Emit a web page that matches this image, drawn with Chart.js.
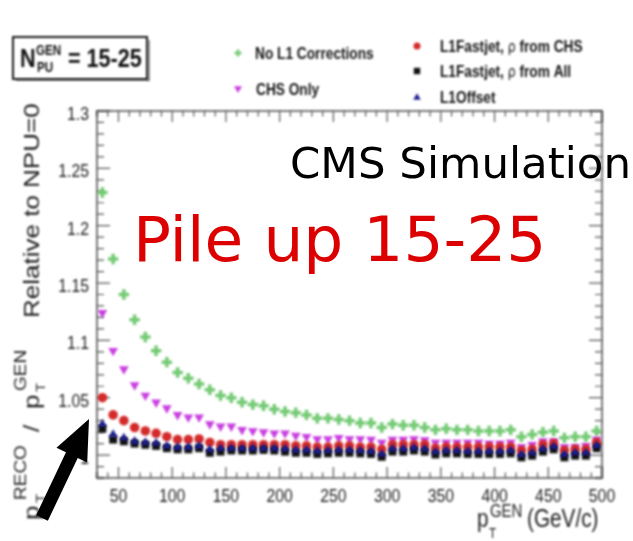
<!DOCTYPE html>
<html>
<head>
<meta charset="utf-8">
<script src="https://cdn.jsdelivr.net/npm/chart.js@4.4.0/dist/chart.umd.min.js"></script>
<style>
  html, body { margin: 0; padding: 0; background: #fff; }
  #plot { display: block; }
</style>
</head>
<body>
<canvas id="plot" width="633" height="541"></canvas>
<script>
// generator-level jet pT bin centres (GeV/c)
const ptBins = [35, 45, 55, 65, 75, 85, 95, 105, 115, 125, 135, 145, 155, 165, 175, 185,
  195, 205, 215, 225, 235, 245, 255, 265, 275, 285, 295, 305, 315, 325, 335, 345, 355,
  365, 375, 385, 395, 405, 415, 425, 435, 445, 455, 465, 475, 485, 495];

// pT(reco)/pT(gen) relative to NPU=0, one array per correction scheme
const noL1 = [1.229, 1.171, 1.140, 1.118, 1.103, 1.091, 1.081, 1.072, 1.067, 1.062, 1.057,
  1.052, 1.050, 1.046, 1.044, 1.043, 1.040, 1.038, 1.037, 1.035, 1.032, 1.032, 1.031, 1.030,
  1.028, 1.028, 1.024, 1.027, 1.026, 1.026, 1.024, 1.022, 1.023, 1.022, 1.022, 1.021, 1.021,
  1.021, 1.022, 1.016, 1.018, 1.020, 1.021, 1.015, 1.016, 1.016, 1.021];
const chsOnly = [1.124, 1.091, 1.075, 1.061, 1.052, 1.046, 1.041, 1.035, 1.033, 1.033, 1.027,
  1.025, 1.025, 1.022, 1.021, 1.020, 1.019, 1.019, 1.017, 1.016, 1.014, 1.014, 1.015, 1.014,
  1.014, 1.0135, 1.011, 1.0135, 1.0135, 1.014, 1.013, 1.011, 1.011, 1.011, 1.011, 1.011, 1.010,
  1.010, 1.011, 1.007, 1.009, 1.012, 1.012, 1.007, 1.007, 1.008, 1.0135];
const fastjetChs = [1.050, 1.035, 1.030, 1.024, 1.021, 1.019, 1.016, 1.0135, 1.0135, 1.014,
  1.011, 1.009, 1.009, 1.009, 1.009, 1.009, 1.009, 1.009, 1.008, 1.008, 1.007, 1.007, 1.008,
  1.008, 1.007, 1.007, 1.005, 1.009, 1.009, 1.009, 1.009, 1.006, 1.007, 1.007, 1.007, 1.007,
  1.007, 1.007, 1.007, 1.004, 1.005, 1.009, 1.010, 1.004, 1.005, 1.005, 1.011];
const fastjetAll = [1.023, 1.0135, 1.012, 1.010, 1.009, 1.008, 1.006, 1.005, 1.005, 1.006,
  1.002, 1.003, 1.004, 1.004, 1.004, 1.0045, 1.004, 1.003, 1.002, 1.002, 1.001, 1.0015, 1.002,
  1.002, 1.0015, 1.001, 0.9985, 1.003, 1.003, 1.004, 1.003, 1.0005, 1.0015, 1.0015, 1.001,
  1.001, 1.001, 1.001, 1.0015, 0.998, 0.9995, 1.003, 1.005, 0.998, 0.9995, 0.9995, 1.006];
const l1Offset = [1.027, 1.018, 1.015, 1.012, 1.011, 1.0105, 1.008, 1.007, 1.007, 1.008,
  1.005, 1.006, 1.006, 1.006, 1.006, 1.006, 1.006, 1.0055, 1.0045, 1.0045, 1.0035, 1.004,
  1.0045, 1.0045, 1.004, 1.0035, 1.001, 1.0055, 1.0055, 1.0065, 1.0055, 1.003, 1.004, 1.004,
  1.0035, 1.0035, 1.0035, 1.0035, 1.004, 1.0005, 1.002, 1.0055, 1.0075, 1.0005, 1.002, 1.002,
  1.0085];

const xTickValues = [50, 100, 150, 200, 250, 300, 350, 400, 450, 500];
const yTickValues = [1, 1.05, 1.1, 1.15, 1.2, 1.25, 1.3];
const yTickLabels = ['1', '1.05', '1.1', '1.15', '1.2', '1.25', '1.3'];

const COL = {
  noL1: '#74ca74',
  chs: '#c93fe0',
  fjChs: '#d42a2a',
  fjAll: '#111111',
  offset: '#1c1c8e'
};

const SQ = 0.83;        // lettering of the plot is a bit condensed
const INK = '#1c1c1c';
const SOFT = 'blur(0.8px)';

function squeezed(ctx, str, x, y, font, align) {
  ctx.save();
  ctx.translate(x, y);
  ctx.scale(SQ, 1);
  ctx.font = font;
  ctx.textAlign = align || 'left';
  ctx.textBaseline = 'alphabetic';
  ctx.fillText(str, 0, 0);
  ctx.restore();
}

function marker(ctx, style, x, y, r, color) {
  ctx.save();
  ctx.fillStyle = color;
  ctx.strokeStyle = color;
  ctx.beginPath();
  if (style === 'cross') {
    ctx.lineWidth = 2.5;
    ctx.moveTo(x - r, y); ctx.lineTo(x + r, y);
    ctx.moveTo(x, y - r); ctx.lineTo(x, y + r);
    ctx.stroke();
  } else if (style === 'circle') {
    ctx.arc(x, y, r, 0, Math.PI * 2);
    ctx.fill();
  } else if (style === 'square') {
    ctx.fillRect(x - r, y - r, 2 * r, 2 * r);
  } else if (style === 'down') {
    ctx.moveTo(x - r, y - r * 0.7); ctx.lineTo(x + r, y - r * 0.7); ctx.lineTo(x, y + r);
    ctx.closePath(); ctx.fill();
  } else if (style === 'up') {
    ctx.moveTo(x - r, y + r * 0.7); ctx.lineTo(x + r, y + r * 0.7); ctx.lineTo(x, y - r);
    ctx.closePath(); ctx.fill();
  }
  ctx.restore();
}

function drawFrame(chart) {
  const { ctx, chartArea: a, scales: { x, y } } = chart;
  ctx.strokeStyle = '#555';
  ctx.lineWidth = 1.6;
  ctx.strokeRect(a.left, a.top, a.right - a.left, a.bottom - a.top);

  ctx.lineWidth = 1.2;
  ctx.beginPath();
  for (let v = 30; v <= 500; v += 10) {
    const px = x.getPixelForValue(v);
    const len = v % 50 === 0 ? 11 : 5.5;
    ctx.moveTo(px, a.bottom); ctx.lineTo(px, a.bottom - len);
    ctx.moveTo(px, a.top); ctx.lineTo(px, a.top + len);
  }
  for (let i = 0; i <= 32; i++) {
    const py = y.getPixelForValue(0.98 + i * 0.01);
    const len = i % 5 === 2 ? 13 : 7;
    ctx.moveTo(a.left, py); ctx.lineTo(a.left + len, py);
    ctx.moveTo(a.right, py); ctx.lineTo(a.right - len, py);
  }
  ctx.stroke();

  ctx.fillStyle = INK;
  xTickValues.forEach(v => {
    squeezed(ctx, String(v), x.getPixelForValue(v), a.bottom + 24, '19px "Liberation Sans"', 'center');
  });
  yTickValues.forEach((v, i) => {
    squeezed(ctx, yTickLabels[i], a.left - 8, y.getPixelForValue(v) + 9, '19px "Liberation Sans"', 'right');
  });
}

function drawTitles(chart) {
  const ctx = chart.ctx;
  ctx.fillStyle = INK;
  const main = '25px "Liberation Sans"';
  const small = '18px "Liberation Sans"';

  // x title, right aligned under the axis
  squeezed(ctx, 'p', 477, 527, main);
  squeezed(ctx, 'GEN', 490, 517, small);
  squeezed(ctx, 'T', 489, 538, '14px "Liberation Sans"');
  squeezed(ctx, '(GeV/c)', 527, 527, main);

  // y title, rotated, read bottom to top
  ctx.save();
  ctx.translate(39, 0);
  ctx.rotate(-Math.PI / 2);
  ctx.scale(1, SQ);
  ctx.textBaseline = 'alphabetic';
  const put = (str, screenY, font, shift) => {
    ctx.font = font;
    ctx.fillText(str, -screenY, shift || 0);
  };
  const big = '26px "Liberation Sans"';
  put('p', 520, big);
  put('T', 503, '15px "Liberation Sans"', 7);
  put('RECO', 500, '19px "Liberation Sans"', -16);
  put('/', 432, big);
  put('p', 409, big);
  put('T', 392, '15px "Liberation Sans"', 7);
  put('GEN', 391, '19px "Liberation Sans"', -16);
  put('Relative to NPU=0', 318, big);
  ctx.restore();
}

function drawLegend(chart) {
  const ctx = chart.ctx;
  const font = 'bold 16.5px "Liberation Sans"';
  const ink = '#141414';
  ctx.fillStyle = ink;

  marker(ctx, 'cross', 238, 53, 3.5, COL.noL1);
  squeezed(ctx, 'No L1 Corrections', 255, 59, font);
  marker(ctx, 'down', 238, 89, 4, COL.chs);
  ctx.fillStyle = ink;
  squeezed(ctx, 'CHS Only', 256, 95, font);

  const rows = [
    ['circle', 3.5, COL.fjChs, 46, 'L1Fastjet, ', ' from CHS'],
    ['square', 3.2, COL.fjAll, 71, 'L1Fastjet, ', ' from All'],
    ['up', 3.8, COL.offset, 97, 'L1Offset', '']
  ];
  rows.forEach(([style, r, color, yy, head, tail]) => {
    marker(ctx, style, 417, yy, r, color);
    ctx.fillStyle = ink;
    ctx.save();
    ctx.translate(440, yy + 6);
    ctx.scale(SQ, 1);
    ctx.font = font;
    ctx.fillText(head, 0, 0);
    if (tail) {
      let w = ctx.measureText(head).width;
      ctx.font = '15px "DejaVu Sans"';
      ctx.fillText('\u03c1', w, 0);
      w += ctx.measureText('\u03c1').width;
      ctx.font = font;
      ctx.fillText(tail, w, 0);
    }
    ctx.restore();
  });
}

function drawPileupBox(chart) {
  const ctx = chart.ctx;
  ctx.fillStyle = '#9a9a9a';
  ctx.fillRect(16, 78, 133, 3);
  ctx.fillRect(147, 40, 3, 41);
  ctx.fillStyle = '#fff';
  ctx.fillRect(13, 37, 134, 42);
  ctx.strokeStyle = '#1a1a1a';
  ctx.lineWidth = 2;
  ctx.strokeRect(13, 37, 134, 42);

  ctx.fillStyle = '#111';
  squeezed(ctx, 'N', 20, 67, 'bold 26px "Liberation Sans"');
  squeezed(ctx, 'GEN', 36, 55, 'bold 14px "Liberation Sans"');
  squeezed(ctx, 'PU', 37, 72, 'bold 14px "Liberation Sans"');
  squeezed(ctx, '= 15-25', 68, 67, 'bold 26px "Liberation Sans"');
}

function drawNotes(chart) {
  const ctx = chart.ctx;
  ctx.save();
  ctx.textBaseline = 'alphabetic';
  ctx.font = '43.5px "DejaVu Sans"';
  ctx.fillStyle = '#000';
  ctx.fillText('CMS Simulation', 290, 178);
  ctx.font = '63px "DejaVu Sans"';
  ctx.fillStyle = '#dc0000';
  ctx.fillText('Pile up 15-25', 133, 261);

  // arrow pointing at the low-pT end of the corrected curves
  const tail = [42, 518], tip = [89, 419];
  const dx = tip[0] - tail[0], dy = tip[1] - tail[1];
  const len = Math.hypot(dx, dy);
  const ux = dx / len, uy = dy / len, nx = -uy, ny = ux;
  const headLen = 40, headW = 17, shaftW = 6.5;
  const bx = tip[0] - ux * headLen, by = tip[1] - uy * headLen;
  ctx.fillStyle = '#000';
  ctx.beginPath();
  ctx.moveTo(tail[0] + nx * shaftW, tail[1] + ny * shaftW);
  ctx.lineTo(bx + nx * shaftW, by + ny * shaftW);
  ctx.lineTo(bx + nx * headW, by + ny * headW);
  ctx.lineTo(tip[0], tip[1]);
  ctx.lineTo(bx - nx * headW, by - ny * headW);
  ctx.lineTo(bx - nx * shaftW, by - ny * shaftW);
  ctx.lineTo(tail[0] - nx * shaftW, tail[1] - ny * shaftW);
  ctx.closePath();
  ctx.fill();
  ctx.restore();
}

const rootStyle = {
  id: 'rootStyle',
  beforeDraw(chart) {
    const ctx = chart.ctx;
    ctx.save();
    ctx.fillStyle = '#fff';
    ctx.fillRect(0, 0, chart.width, chart.height);
    ctx.restore();
  },
  beforeDatasetsDraw(chart) {
    const ctx = chart.ctx;
    ctx.save();
    ctx.filter = SOFT;
    drawFrame(chart);
    drawTitles(chart);
    drawLegend(chart);
    drawPileupBox(chart);
  },
  afterDatasetsDraw(chart) {
    chart.ctx.restore();
  },
  afterDraw(chart) {
    drawNotes(chart);
  }
};

const points = arr => ptBins.map((x, i) => ({ x, y: arr[i] }));

new Chart(document.getElementById('plot'), {
  type: 'scatter',
  data: {
    datasets: [
      { label: 'No L1 Corrections', data: points(noL1), order: 4,
        pointStyle: 'cross', pointRadius: 5.2, borderWidth: 3.5,
        borderColor: COL.noL1, backgroundColor: COL.noL1 },
      { label: 'CHS Only', data: points(chsOnly), order: 3,
        pointStyle: 'triangle', rotation: 180, pointRadius: 5.6, borderWidth: 0,
        borderColor: COL.chs, backgroundColor: COL.chs },
      { label: 'L1Fastjet, \u03c1 from CHS', data: points(fastjetChs), order: 2,
        pointStyle: 'circle', pointRadius: 4.8, borderWidth: 0,
        borderColor: COL.fjChs, backgroundColor: COL.fjChs },
      { label: 'L1Fastjet, \u03c1 from All', data: points(fastjetAll), order: 1,
        pointStyle: 'rect', pointRadius: 5.6, borderWidth: 0,
        borderColor: COL.fjAll, backgroundColor: COL.fjAll },
      { label: 'L1Offset', data: points(l1Offset), order: 0,
        pointStyle: 'triangle', pointRadius: 5.2, borderWidth: 0,
        borderColor: COL.offset, backgroundColor: COL.offset }
    ]
  },
  options: {
    responsive: false,
    devicePixelRatio: 1,
    animation: false,
    layout: { padding: { left: 97, top: 111, right: 31, bottom: 63 } },
    plugins: { legend: { display: false }, tooltip: { enabled: false } },
    scales: {
      x: { type: 'linear', min: 30, max: 500, display: false },
      y: { type: 'linear', min: 0.98, max: 1.30, display: false }
    }
  },
  plugins: [rootStyle]
});
</script>
</body>
</html>
